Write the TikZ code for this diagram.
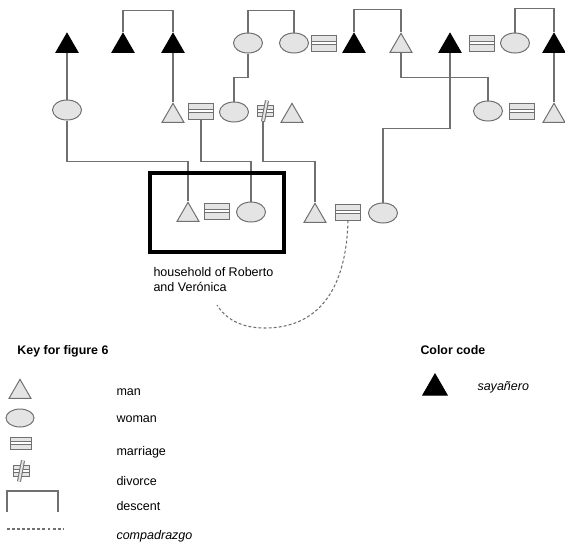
\documentclass[tikz,border=0pt]{standalone}
\usepackage{fontspec}
\setmainfont{Liberation Sans}
\usetikzlibrary{shapes.geometric,calc}

\definecolor{kingrey}{RGB}{112,112,112}
\definecolor{kinfill}{RGB}{228,228,228}

\tikzset{every picture/.style={line width=0.75pt}}
\tikzset{
	man/.style={regular polygon, regular polygon sides=3, minimum size=19pt, inner sep=0pt, draw=kingrey, fill=kinfill},
	sayanero/.style={man, draw=black, fill=black},
	woman/.style={ellipse, minimum width=21.75pt, minimum height=15pt, inner sep=0pt, draw=kingrey, fill=kinfill},
	marriage/.style={rectangle, minimum width=18.75pt, minimum height=12pt, inner sep=0pt, draw=kingrey, fill=kinfill,
		path picture={\draw[kingrey, line width=0.75pt, double=white, double distance=1.5pt] (path picture bounding box.west) -- (path picture bounding box.east);}},
	divorce/.style={marriage, minimum width=12pt, minimum height=8.5pt},
	divbar/.style={draw=kingrey, double=kinfill, double distance=1.5pt, line width=0.75pt},
	descent/.style={draw=kingrey, line width=0.8pt},
	compadre/.style={draw=kingrey, line width=0.8pt, dash pattern=on 2.2pt off 1.6pt},
	household/.style={draw=black, line width=2.4pt},
	keytext/.style={anchor=west, inner sep=0.75pt, font=\fontsize{9.4}{11.3}\selectfont},
	keyhead/.style={keytext, font=\fontsize{9.3}{11.3}\selectfont\bfseries},
}

\begin{document}
\begin{tikzpicture}[x=0.75pt,y=0.75pt,yscale=-1,xscale=1]
	\useasboundingbox (0,0) rectangle (565,544);

	% top generation
	\node[sayanero] (t1) at (67,46) {};
	\node[sayanero] (t2) at (123,46) {};
	\node[sayanero] (t3) at (173,46) {};
	\node[woman] (o1) at (248,43) {};
	\node[woman] (o2) at (294,43) {};
	\node[marriage] (m1) at (324,43) {};
	\node[sayanero] (t4) at (354,46) {};
	\node[man] (t5) at (401,46) {};
	\node[sayanero] (t6) at (450,46) {};
	\node[marriage] (m2) at (482,43) {};
	\node[woman] (o3) at (515,43) {};
	\node[sayanero] (t7) at (554,46) {};

	% middle generation
	\node[woman] (o4) at (67,110) {};
	\node[man] (t8) at (173,116) {};
	\node[marriage] (m3) at (201,111) {};
	\node[woman] (o5) at (234,112) {};
	\node[divorce] (d1) at (265,111) {};
	\node[man] (t9) at (292,116) {};
	\node[woman] (o6) at (488,111) {};
	\node[marriage] (m4) at (522,111) {};
	\node[man] (t10) at (554,116) {};

	% lower generation
	\node[man] (t11) at (188,215) {};
	\node[marriage] (m5) at (217,211) {};
	\node[woman] (o7) at (251,212) {};
	\node[man] (t12) at (315,216) {};
	\node[marriage] (m6) at (348,212) {};
	\node[woman] (o8) at (383,213) {};

	\draw[divbar] ($(d1.north)!-0.35!(d1.south)+(1.5pt,0)$) -- ($(d1.south)!-0.35!(d1.north)+(-1.5pt,0)$);
	\coordinate (d1foot) at ($(d1.south)!-0.35!(d1.north)+(-1.5pt,0)$);

	% descent
	\draw[descent] (t2.corner 1) -- ++(0,-22) -| (t3.corner 1);
	\draw[descent] (o1.north) -- ++(0,-22) -| (o2.north);
	\draw[descent] (t4.corner 1) -- ++(0,-23) -| (t5.corner 1);
	\draw[descent] (o3.north) -- ++(0,-24) -| (t7.corner 1);
	\draw[descent] (t1.south) -- (o4.north);
	\draw[descent] (t3.south) -- (t8.corner 1);
	\draw[descent] (o1.south) -- ++(0,24) -| (o5.north);
	\draw[descent] (t5.south) -- ++(0,25) -| (o6.north);
	\draw[descent] (t7.south) -- (t10.corner 1);
	\draw[descent] (t6.south) -- ++(0,76) -| (o8.north);
	\draw[descent] (o4.south) -- ++(0,41) -| (t11.corner 1);
	\draw[descent] (m3.south) -- ++(0,42) -| (o7.north);
	\draw[descent] (d1foot) -- ++(0,40) -| (t12.corner 1);

	\draw[household] (150,173) rectangle (284,252);
	\node[keytext, anchor=north west, align=left] (hhlabel) at (152,266) {household of Roberto\\and Verónica};

	% compadrazgo
	\coordinate (cpend) at (217,305);
	\draw[compadre] (m6.south) .. controls (346,300) and (310,328) .. (265,328) .. controls (240,328) and (225,318) .. (cpend);

	% key
	\node[keyhead] (keyh) at (16,351) {Key for figure 6};
	\node[man] (kman) at (20,392) {};
	\node[woman, minimum width=21pt, minimum height=13.5pt] (kwoman) at (20,418) {};
	\node[marriage, minimum width=15.75pt, minimum height=9pt] (kmarr) at (20.5,443) {};
	\node[divorce] (kdiv) at (21,471) {};
	\draw[divbar] ($(kdiv.north)!-0.35!(kdiv.south)+(1.5pt,0)$) -- ($(kdiv.south)!-0.35!(kdiv.north)+(-1.5pt,0)$);
	\draw[descent] (7,512) -- (7,491) -- (58,491) -- (58,512);
	\draw[compadre] (7,529) -- (64,529);
	\node[keytext] (lman) at (115,392) {man};
	\node[keytext] (lwoman) at (115,419) {woman};
	\node[keytext] (lmarr) at (115,452) {marriage};
	\node[keytext] (ldiv) at (115,481) {divorce};
	\node[keytext] (ldesc) at (115,506) {descent};
	\node[keytext, font=\fontsize{9.4}{11.3}\selectfont\itshape] (lcomp) at (115,536) {compadrazgo};

	% color code
	\node[keyhead] (colh) at (419,350) {Color code};
	\node[sayanero, minimum size=21pt] (ksay) at (435,388) {};
	\node[keytext, font=\fontsize{9.4}{11.3}\selectfont\itshape] (lsay) at (476,387) {sayañero};

\end{tikzpicture}
\end{document}
